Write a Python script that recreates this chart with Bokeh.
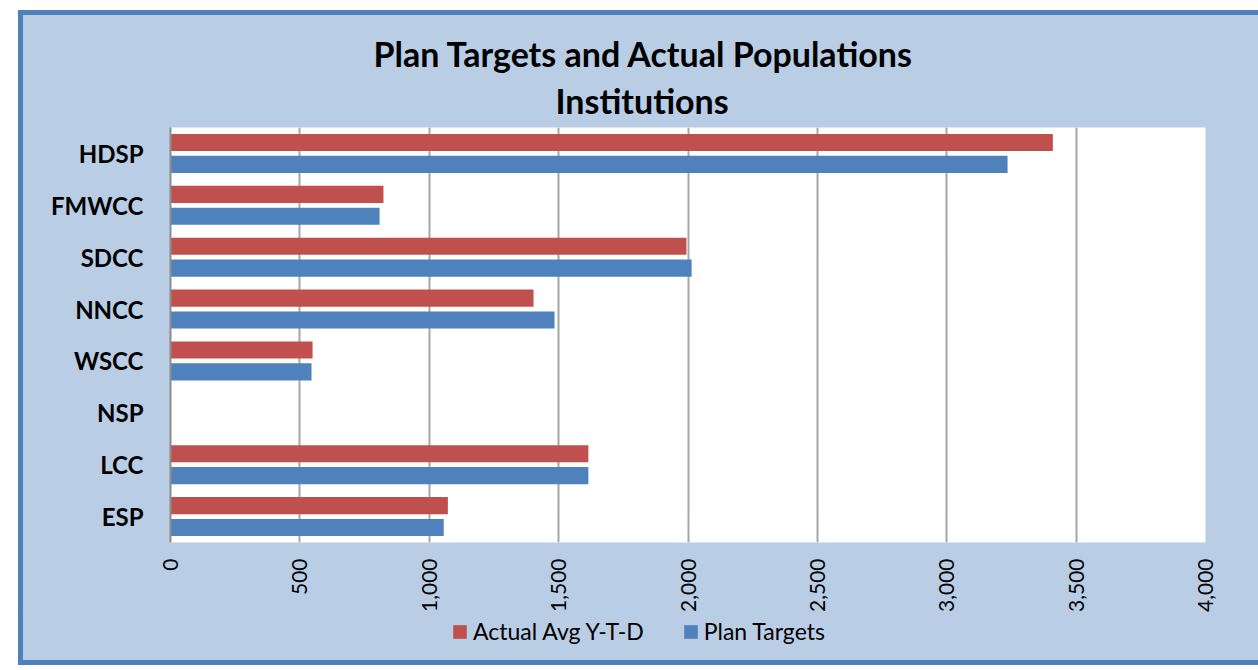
from bokeh.plotting import figure
from bokeh.layouts import column
from bokeh.models import (Range1d, FactorRange, Title, Legend, LegendItem,
                          NumeralTickFormatter, FixedTicker, ColumnDataSource)
from bokeh.transform import dodge
from bokeh.embed import file_html
from bokeh.resources import INLINE
import math

# ---- data (top to bottom as shown) ----
institutions = ["HDSP", "FMWCC", "SDCC", "NNCC", "WSCC", "NSP", "LCC", "ESP"]
actual_avg_ytd = [3410, 823, 1994, 1403, 549, 0, 1615, 1072]
plan_targets = [3235, 808, 2014, 1484, 545, 0, 1615, 1056]
x_ticks = [0, 500, 1000, 1500, 2000, 2500, 3000, 3500, 4000]
series_names = ["Actual Avg Y-T-D", "Plan Targets"]

factors = list(reversed(institutions))  # bottom-to-top for Bokeh
src = ColumnDataSource(dict(cat=institutions, actual=actual_avg_ytd, plan=plan_targets))

BG = "#B9CDE5"
RED = "#C0504D"
BLUE = "#4F81BD"
FONT = "Lato"
W = 1235

p = figure(width=W, height=600, output_backend="svg", toolbar_location=None,
           y_range=FactorRange(*factors, range_padding=0), x_range=Range1d(0, 4000),
           min_border_left=147, min_border_right=53, min_border_top=112, min_border_bottom=73)
p.border_fill_color = BG
p.background_fill_color = "white"
p.outline_line_color = None

r_act = p.hbar(y=dodge("cat", 0.21, range=p.y_range), right="actual", left=0, height=0.33,
               source=src, fill_color=RED, line_color=None)
r_plan = p.hbar(y=dodge("cat", -0.21, range=p.y_range), right="plan", left=0, height=0.33,
                source=src, fill_color=BLUE, line_color=None)

# titles (last added is outermost)
p.add_layout(Title(text="Institutions", align="left", offset=385, text_font=FONT,
                   text_font_size="34px", text_font_style="bold", text_color="black",
                   standoff=13), "above")
p.add_layout(Title(text="Plan Targets and Actual Populations", align="left", offset=203,
                   text_font=FONT, text_font_size="34px", text_font_style="bold",
                   text_color="black", standoff=-4), "above")

# x axis
xa = p.xaxis[0]
xa.ticker = FixedTicker(ticks=x_ticks)
xa.formatter = NumeralTickFormatter(format="0,0")
xa.major_label_orientation = math.pi / 2
xa.major_label_text_font = FONT
xa.major_label_text_font_size = "21px"
xa.major_label_text_color = "black"
xa.major_label_standoff = 10
xa.axis_line_color = None
xa.major_tick_line_color = None
xa.minor_tick_line_color = None

# y axis
ya = p.yaxis[0]
ya.major_label_text_font = FONT
ya.major_label_text_font_size = "24px"
ya.major_label_text_font_style = "bold"
ya.major_label_text_color = "black"
ya.major_label_standoff = 21
ya.axis_line_color = "#8C8C8C"
ya.axis_line_width = 2
ya.major_tick_line_color = None
ya.minor_tick_line_color = None

p.xgrid.grid_line_color = "#A6A6A6"
p.xgrid.grid_line_width = 2
p.ygrid.grid_line_color = None

# ---- legend strip (separate figure below the chart, same background) ----
q = figure(width=W, height=45, output_backend="svg", toolbar_location=None,
           x_range=Range1d(0, 1), y_range=Range1d(0, 1),
           x_axis_location=None, y_axis_location=None,
           min_border_left=0, min_border_right=0, min_border_top=0, min_border_bottom=0)
q.border_fill_color = BG
q.background_fill_color = BG
q.outline_line_color = None
q.xgrid.grid_line_color = None
q.ygrid.grid_line_color = None
# legend-swatch renderers; their single point lies outside the visible range
lg_src = ColumnDataSource(dict(x=[5], y=[5]))
lg_act = q.rect(x="x", y="y", width=0.1, height=0.1, source=lg_src, fill_color=RED, line_color=None)
lg_plan = q.rect(x="x", y="y", width=0.1, height=0.1, source=lg_src, fill_color=BLUE, line_color=None)

legend = Legend(items=[LegendItem(label=series_names[0], renderers=[lg_act]),
                       LegendItem(label=series_names[1], renderers=[lg_plan])],
                orientation="horizontal", location=(281, 15),
                label_text_font=FONT, label_text_font_size="23px", label_text_color="black",
                glyph_width=17, glyph_height=17, label_standoff=5, spacing=38,
                padding=0, margin=0, background_fill_alpha=0, border_line_alpha=0)
q.add_layout(legend, "center")

layout = column(p, q, spacing=0, margin=(10, 0, 0, 18),
                styles={"border-left": "5px solid #4F81BD", "border-top": "5px solid #4F81BD",
                        "border-bottom": "5px solid #4F81BD", "background-color": BG})

open("out.html", "w").write(file_html(layout, INLINE))
